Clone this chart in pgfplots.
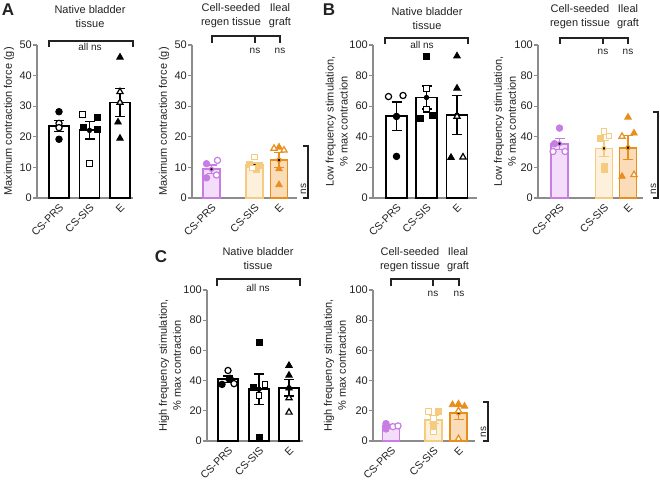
\documentclass[border=0pt]{standalone}
\usepackage{fontspec}
\setmainfont{Liberation Sans}
\usepackage{pgfplots}
\pgfplotsset{compat=1.18}
\definecolor{axg}{HTML}{8C8C8C}
\definecolor{txt}{HTML}{222222}
\definecolor{pe}{HTML}{C77DE4}
\definecolor{pf}{HTML}{F3DDFA}
\definecolor{le}{HTML}{F5CB80}
\definecolor{lf}{HTML}{FDF1DE}
\definecolor{oe}{HTML}{E98E1C}
\definecolor{of}{HTML}{FADDB8}
\pgfplotsset{
  base/.style={
    scale only axis, anchor=south west, clip=false,
    axis x line*=bottom, axis y line*=left,
    axis line style={draw=axg, line width=1.3pt},
    ymin=0,
    tick align=outside, major tick length=4pt,
    tick style={draw=axg, line width=1.3pt},
    xtick style={draw=none},
    /pgf/number format/assume math mode=true,
    tick label style={font=\fontsize{11}{13}\selectfont, text=txt},
    label style={font=\fontsize{11}{14}\selectfont, text=txt},
    yticklabel style={inner sep=1pt},
    xticklabels={CS-PRS,CS-SIS,E},
    xticklabel style={rotate=45, anchor=north east, inner sep=0.5pt, font=\fontsize{10.6}{12}\selectfont},
    ylabel style={align=center, anchor=center},
  },
  bb/.style={ybar, bar width=#1, bar shift=0pt, line width=1.8pt},
  eb/.style={no markers, only marks, forget plot, draw=#1, line width=1.3pt,
    error bars/.cd, y dir=both, y explicit,
    error bar style={line width=1.3pt, draw=#1},
    error mark options={rotate=90, mark size=5pt, line width=1.3pt, draw=#1}},
  fc/.style={only marks, mark=*, mark size=3.3pt, mark options={draw=#1, fill=#1, line width=0.8pt}},
  oc/.style={only marks, mark=*, mark size=3.1pt, mark options={draw=#1, fill=white, line width=1.2pt}},
  fs/.style={only marks, mark=square*, mark size=3pt, mark options={draw=#1, fill=#1, line width=0.8pt}},
  os/.style={only marks, mark=square*, mark size=2.8pt, mark options={draw=#1, fill=white, line width=1.2pt}},
  ft/.style={only marks, mark=triangle*, mark size=3.8pt, mark options={draw=#1, fill=#1, line width=0.8pt}},
  ot/.style={only marks, mark=triangle*, mark size=3.6pt, mark options={draw=#1, fill=white, line width=1.2pt}},
}
\begin{document}
\begin{tikzpicture}[x=1pt,y=-1pt]
\useasboundingbox (0,0) rectangle (660,480);

% ---------- A left ----------
\begin{axis}[base, at={(37pt,-198pt)}, width=96pt, height=153pt,
  xmin=0, xmax=96, ymax=50, ytick={0,10,...,50}, xtick={22,52.5,83},
  ylabel={Maximum contraction force (g)},
  ylabel style={at={(axis description cs:-0.292,0.5)}}]
\addplot[bb=20, draw=black, fill=white] coordinates {(22,23.5) (52.5,22.1) (83,31.2)};
\addplot[eb=black] coordinates {(22,23.5) +- (0,1.86) (52.5,22.1) +- (0,2.85) (83,31.2) +- (0,4.5)};
\addplot[fc=black] coordinates {(22,28.2) (22,19.2)};
\addplot[oc=black] coordinates {(22,24.4) (22,23.0)};
\addplot[fs=black] coordinates {(60.5,26.3) (46.5,23.2) (60.5,22.4)};
\addplot[os=black] coordinates {(45.5,27.3) (52.5,11.3)};
\addplot[ft=black] coordinates {(83,46) (81,24.8) (83,19.5)};
\addplot[ot=black] coordinates {(83,34.7) (83,31.2)};
\end{axis}

% ---------- A right ----------
\begin{axis}[base, at={(192pt,-198pt)}, width=105pt, height=153pt,
  xmin=0, xmax=105, ymax=50, ytick={0,10,...,50}, xtick={19.5,62.5,87},
  ylabel={Maximum contraction force (g)},
  ylabel style={at={(axis description cs:-0.267,0.5)}}]
\addplot[bb=17, draw=pe, fill=pf] coordinates {(19.5,9.4)};
\addplot[bb=17, draw=le, fill=lf] coordinates {(62.5,10.8)};
\addplot[bb=17, draw=oe, fill=of] coordinates {(87,12.4)};
\addplot[eb=pe] coordinates {(19.5,9.4) +- (0,1.4)};
\addplot[eb=le] coordinates {(62.5,10.8) +- (0,0.9)};
\addplot[eb=oe] coordinates {(87,12.4) +- (0,2.4)};
\addplot[fc=pe] coordinates {(14.5,11.2) (14.5,6.6)};
\addplot[oc=pe] coordinates {(25.5,12.3) (24.5,7.5)};
\addplot[fs=le] coordinates {(57.5,10.9) (67.5,10.6) (64.5,9.3)};
\addplot[os=le] coordinates {(62.5,13.4) (60.5,9.8)};
\addplot[ft=oe] coordinates {(87,16.6) (87,9.5) (87,4.3)};
\addplot[ot=oe] coordinates {(82,16.2) (92,15.6)};
\end{axis}

% ---------- B left ----------
\begin{axis}[base, at={(373pt,-198pt)}, width=104pt, height=153pt,
  xmin=0, xmax=104, ymax=100, ytick={0,20,...,100}, xtick={23.5,53.5,84},
  ylabel={Low frequency stimulation,\\\% max contraction},
  ylabel style={at={(axis description cs:-0.35,0.5)}}]
\addplot[bb=21, draw=black, fill=white] coordinates {(23.5,53.45) (53.5,65.7) (84,54.2)};
\addplot[eb=black] coordinates {(23.5,53.45) +- (0,9.3) (53.5,65.7) +- (0,7.57) (84,54.2) +- (0,12.9)};
\addplot[fc=black] coordinates {(23.5,53.3) (23.5,27.2)};
\addplot[oc=black] coordinates {(15.5,66.3) (30,67)};
\addplot[fs=black] coordinates {(53.5,92.8) (47.5,52.2) (59.5,54)};
\addplot[os=black] coordinates {(53.5,71.5) (53.5,58)};
\addplot[ft=black] coordinates {(84,92.8) (84,71.7) (78,26.5)};
\addplot[ot=black] coordinates {(84,53.3) (90,26.7)};
\end{axis}

% ---------- B right ----------
\begin{axis}[base, at={(538pt,-198pt)}, width=105pt, height=153pt,
  xmin=0, xmax=105, ymax=100, ytick={0,20,...,100}, xtick={21.5,66,90},
  ylabel={Low frequency stimulation,\\\% max contraction},
  ylabel style={at={(axis description cs:-0.314,0.5)}}]
\addplot[bb=17, draw=pe, fill=pf] coordinates {(21.5,35.5)};
\addplot[bb=17, draw=le, fill=lf] coordinates {(66,32.4)};
\addplot[bb=17, draw=oe, fill=of] coordinates {(90,32.9)};
\addplot[eb=pe] coordinates {(21.5,35.5) +- (0,3.6)};
\addplot[eb=le] coordinates {(66,32.4) +- (0,5.3)};
\addplot[eb=oe] coordinates {(90,32.9) +- (0,7.76)};
\addplot[fc=pe] coordinates {(21.5,45.7) (16.5,35.5)};
\addplot[oc=pe] coordinates {(15,30.4) (27,30.4)};
\addplot[fs=le] coordinates {(62,39) (66,20.7) (66,18.5)};
\addplot[os=le] coordinates {(66,43.5) (71,40.5)};
\addplot[ft=oe] coordinates {(90,52.8) (96,42.4) (84,14.1)};
\addplot[ot=oe] coordinates {(84,40.2) (96,15.2)};
\end{axis}

% ---------- C left ----------
\begin{axis}[base, at={(207pt,-441pt)}, width=96pt, height=151pt,
  xmin=0, xmax=96, ymax=100, ytick={0,20,...,100}, xtick={21,52,82},
  ylabel={High frequency stimulation,\\\% max contraction},
  ylabel style={at={(axis description cs:-0.385,0.5)}}]
\addplot[bb=20, draw=black, fill=white] coordinates {(21,40.9) (52,34.3) (82,35.2)};
\addplot[eb=black] coordinates {(21,40.9) +- (0,2.12) (52,34.3) +- (0,10) (82,35.2) +- (0,5.45)};
\addplot[fc=black] coordinates {(23,41.5) (15,37.5)};
\addplot[oc=black] coordinates {(21,46.7) (27,38)};
\addplot[fs=black] coordinates {(52,65.4) (46,35.7) (52,2.6)};
\addplot[os=black] coordinates {(58,37.4) (52,30.2)};
\addplot[ft=black] coordinates {(82,50) (82,43.5) (82,35)};
\addplot[ot=black] coordinates {(82,28.5) (82,19)};
\end{axis}

% ---------- C right ----------
\begin{axis}[base, at={(373pt,-441pt)}, width=102pt, height=151pt,
  xmin=0, xmax=102, ymax=100, ytick={0,20,...,100}, xtick={18,60.5,85.5},
  ylabel={High frequency stimulation,\\\% max contraction},
  ylabel style={at={(axis description cs:-0.373,0.5)}}]
\addplot[bb=17, draw=pe, fill=pf] coordinates {(18,9.75)};
\addplot[bb=17, draw=le, fill=lf] coordinates {(60.5,14.1)};
\addplot[bb=17, draw=oe, fill=of] coordinates {(85.5,18.6)};
\addplot[eb=pe] coordinates {(18,9.75) +- (0,0.8)};
\addplot[eb=le] coordinates {(60.5,14.1) +- (0,2.64)};
\addplot[eb=oe] coordinates {(85.5,18.6) +- (0,4.3)};
\addplot[fc=pe] coordinates {(13,11.5) (13,8)};
\addplot[oc=pe] coordinates {(20,9.5) (25,10)};
\addplot[fs=le] coordinates {(65.5,19.6) (60.5,10.5)};
\addplot[os=le] coordinates {(55.5,19.6) (60.5,15) (60.5,6)};
\addplot[ft=oe] coordinates {(79.5,24) (85.5,24.5) (91.5,23)};
\addplot[ot=oe] coordinates {(85.5,20) (85.5,1.5)};
\end{axis}

% ---------- annotations ----------
\begin{scope}[txt, draw=txt, line width=1.1pt, font=\fontsize{11}{14}\selectfont]
\node[font=\bfseries\fontsize{17}{17}\selectfont] at (8,10) {A};
\node[font=\bfseries\fontsize{17}{17}\selectfont] at (329,10) {B};
\node[font=\bfseries\fontsize{17}{17}\selectfont] at (161,257) {C};
% A left
\node[align=center] at (90,17) {Native bladder\\tissue};
\draw (49,47) -- (49,41) -- (133,41) -- (133,47);
\node[font=\fontsize{10}{12}\selectfont] at (90,46.5) {all ns};
% A right
\node[align=center] at (231,16) {Cell-seeded\\regen tissue};
\node[align=center] at (280,16) {Ileal\\graft};
\draw (212,43) -- (212,36) -- (280,36) -- (280,43);
\draw (255,36) -- (255,43);
\node[font=\fontsize{10}{12}\selectfont] at (255,51) {ns};
\node[font=\fontsize{10}{12}\selectfont] at (280,51) {ns};
\draw (303,146) -- (308,146) -- (308,198) -- (303,198);
\node[rotate=90, font=\fontsize{10}{12}\selectfont] at (303.5,189) {ns};
% B left
\node[align=center] at (427,19) {Native bladder\\tissue};
\draw (385,44) -- (385,38) -- (468,38) -- (468,44);
\node[font=\fontsize{10}{12}\selectfont] at (422,44.5) {all ns};
% B right
\node[align=center] at (580,17) {Cell-seeded\\regen tissue};
\node[align=center] at (628,17) {Ileal\\graft};
\draw (560,44) -- (560,38) -- (628,38) -- (628,44);
\draw (603,38) -- (603,44);
\node[font=\fontsize{10}{12}\selectfont] at (603,52) {ns};
\node[font=\fontsize{10}{12}\selectfont] at (628,52) {ns};
\draw (653,112) -- (658,112) -- (658,198) -- (653,198);
\node[rotate=90, font=\fontsize{10}{12}\selectfont] at (653.5,189) {ns};
% C left
\node[align=center] at (258,259) {Native bladder\\tissue};
\draw (217,286) -- (217,279) -- (300,279) -- (300,286);
\node[font=\fontsize{10}{12}\selectfont] at (258,288) {all ns};
% C right
\node[align=center] at (410,259.5) {Cell-seeded\\regen tissue};
\node[align=center] at (458,259.5) {Ileal\\graft};
\draw (391,286) -- (391,279) -- (459,279) -- (459,286);
\draw (433,279) -- (433,286);
\node[font=\fontsize{10}{12}\selectfont] at (433,294) {ns};
\node[font=\fontsize{10}{12}\selectfont] at (459,294) {ns};
\draw (483,402) -- (488,402) -- (488,441) -- (483,441);
\node[rotate=90, font=\fontsize{10}{12}\selectfont] at (483.5,432) {ns};
\end{scope}
\end{tikzpicture}
\end{document}
